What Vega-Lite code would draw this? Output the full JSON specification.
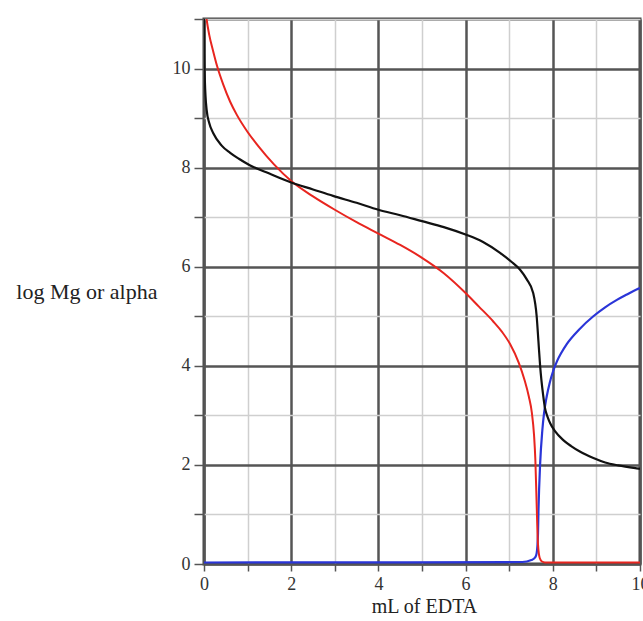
{
  "$schema": "https://vega.github.io/schema/vega-lite/v6.json",
  "autosize": "none",
  "width": 436,
  "height": 545,
  "padding": {"left": 204, "top": 19, "right": 3, "bottom": 57},
  "background": "white",
  "config": {
    "view": {"stroke": "#444444", "strokeWidth": 3},
    "font": "Liberation Serif"
  },
  "datasets": {
    "curves": [
      {"x": 0, "y": 11.2, "s": "black"},
      {"x": 0.005, "y": 10.3, "s": "black"},
      {"x": 0.02, "y": 9.75, "s": "black"},
      {"x": 0.06, "y": 9.17, "s": "black"},
      {"x": 0.12, "y": 8.9, "s": "black"},
      {"x": 0.21, "y": 8.7, "s": "black"},
      {"x": 0.4, "y": 8.45, "s": "black"},
      {"x": 0.6, "y": 8.3, "s": "black"},
      {"x": 0.8, "y": 8.18, "s": "black"},
      {"x": 1.05, "y": 8.05, "s": "black"},
      {"x": 1.5, "y": 7.88, "s": "black"},
      {"x": 2, "y": 7.7, "s": "black"},
      {"x": 2.5, "y": 7.56, "s": "black"},
      {"x": 2.96, "y": 7.43, "s": "black"},
      {"x": 3.5, "y": 7.29, "s": "black"},
      {"x": 4, "y": 7.15, "s": "black"},
      {"x": 4.5, "y": 7.04, "s": "black"},
      {"x": 5, "y": 6.92, "s": "black"},
      {"x": 5.5, "y": 6.8, "s": "black"},
      {"x": 6, "y": 6.65, "s": "black"},
      {"x": 6.4, "y": 6.5, "s": "black"},
      {"x": 6.79, "y": 6.28, "s": "black"},
      {"x": 7.05, "y": 6.1, "s": "black"},
      {"x": 7.25, "y": 5.94, "s": "black"},
      {"x": 7.4, "y": 5.75, "s": "black"},
      {"x": 7.55, "y": 5.47, "s": "black"},
      {"x": 7.63, "y": 5.0, "s": "black"},
      {"x": 7.67, "y": 4.5, "s": "black"},
      {"x": 7.71, "y": 3.99, "s": "black"},
      {"x": 7.74, "y": 3.7, "s": "black"},
      {"x": 7.78, "y": 3.4, "s": "black"},
      {"x": 7.82, "y": 3.15, "s": "black"},
      {"x": 7.88, "y": 2.97, "s": "black"},
      {"x": 7.94, "y": 2.84, "s": "black"},
      {"x": 8.05, "y": 2.68, "s": "black"},
      {"x": 8.24, "y": 2.5, "s": "black"},
      {"x": 8.42, "y": 2.38, "s": "black"},
      {"x": 8.62, "y": 2.27, "s": "black"},
      {"x": 8.93, "y": 2.14, "s": "black"},
      {"x": 9.2, "y": 2.05, "s": "black"},
      {"x": 9.5, "y": 1.99, "s": "black"},
      {"x": 9.92, "y": 1.93, "s": "black"},
      {"x": 10, "y": 1.92, "s": "black"},
      {"x": 0.03, "y": 11.2, "s": "red"},
      {"x": 0.06, "y": 10.99, "s": "red"},
      {"x": 0.12, "y": 10.68, "s": "red"},
      {"x": 0.21, "y": 10.35, "s": "red"},
      {"x": 0.3, "y": 10.05, "s": "red"},
      {"x": 0.44, "y": 9.68, "s": "red"},
      {"x": 0.6, "y": 9.33, "s": "red"},
      {"x": 0.75, "y": 9.07, "s": "red"},
      {"x": 1.0, "y": 8.72, "s": "red"},
      {"x": 1.25, "y": 8.43, "s": "red"},
      {"x": 1.6, "y": 8.07, "s": "red"},
      {"x": 2, "y": 7.73, "s": "red"},
      {"x": 2.5, "y": 7.42, "s": "red"},
      {"x": 3, "y": 7.15, "s": "red"},
      {"x": 3.5, "y": 6.9, "s": "red"},
      {"x": 4, "y": 6.67, "s": "red"},
      {"x": 4.5, "y": 6.44, "s": "red"},
      {"x": 5, "y": 6.18, "s": "red"},
      {"x": 5.5, "y": 5.87, "s": "red"},
      {"x": 6, "y": 5.47, "s": "red"},
      {"x": 6.3, "y": 5.2, "s": "red"},
      {"x": 6.63, "y": 4.9, "s": "red"},
      {"x": 6.84, "y": 4.68, "s": "red"},
      {"x": 7.02, "y": 4.44, "s": "red"},
      {"x": 7.22, "y": 4.06, "s": "red"},
      {"x": 7.35, "y": 3.72, "s": "red"},
      {"x": 7.45, "y": 3.38, "s": "red"},
      {"x": 7.52, "y": 3.05, "s": "red"},
      {"x": 7.57, "y": 2.6, "s": "red"},
      {"x": 7.6, "y": 2.1, "s": "red"},
      {"x": 7.63, "y": 1.2, "s": "red"},
      {"x": 7.66, "y": 0.4, "s": "red"},
      {"x": 7.7, "y": 0.12, "s": "red"},
      {"x": 7.75, "y": 0.05, "s": "red"},
      {"x": 7.82, "y": 0.03, "s": "red"},
      {"x": 10, "y": 0.03, "s": "red"},
      {"x": 0, "y": 0.03, "s": "blue"},
      {"x": 7.3, "y": 0.04, "s": "blue"},
      {"x": 7.51, "y": 0.08, "s": "blue"},
      {"x": 7.6, "y": 0.14, "s": "blue"},
      {"x": 7.63, "y": 0.22, "s": "blue"},
      {"x": 7.66, "y": 0.6, "s": "blue"},
      {"x": 7.67, "y": 1.02, "s": "blue"},
      {"x": 7.71, "y": 2.03, "s": "blue"},
      {"x": 7.76, "y": 2.7, "s": "blue"},
      {"x": 7.8, "y": 3.05, "s": "blue"},
      {"x": 7.86, "y": 3.38, "s": "blue"},
      {"x": 7.93, "y": 3.66, "s": "blue"},
      {"x": 8.01, "y": 3.9, "s": "blue"},
      {"x": 8.1, "y": 4.1, "s": "blue"},
      {"x": 8.2, "y": 4.27, "s": "blue"},
      {"x": 8.32, "y": 4.44, "s": "blue"},
      {"x": 8.6, "y": 4.73, "s": "blue"},
      {"x": 8.93, "y": 5.0, "s": "blue"},
      {"x": 9.2, "y": 5.18, "s": "blue"},
      {"x": 9.47, "y": 5.33, "s": "blue"},
      {"x": 9.7, "y": 5.44, "s": "blue"},
      {"x": 9.92, "y": 5.54, "s": "blue"},
      {"x": 10, "y": 5.57, "s": "blue"}
    ]
  },
  "data": {"name": "curves"},
  "encoding": {
    "x": {
      "field": "x", "type": "quantitative",
      "scale": {"domain": [0, 10], "nice": false, "zero": false},
      "axis": {
        "title": "mL of EDTA",
        "values": [0, 1, 2, 3, 4, 5, 6, 7, 8, 9, 10],
        "labelExpr": "datum.value % 2 === 0 ? datum.label : ''",
        "grid": true,
        "gridColor": {"condition": {"test": "datum.value % 2 === 0", "value": "#555555"}, "value": "#cfcfcf"},
        "gridWidth": {"condition": {"test": "datum.value % 2 === 0", "value": 2.5}, "value": 1.5},
        "domain": false,
        "tickColor": "#555555",
        "tickSize": 7,
        "tickWidth": 1.5,
        "labelPadding": 4,
        "labelFont": "Liberation Serif",
        "labelFontSize": 18,
        "labelColor": "#333333",
        "labelFlush": false,
        "titleFont": "Liberation Serif",
        "titleFontSize": 20,
        "titleFontWeight": "normal",
        "titleColor": "#222222",
        "titleBaseline": "alphabetic",
        "titleY": 48,
        "titleX": 220
      }
    },
    "y": {
      "field": "y", "type": "quantitative",
      "scale": {"domain": [0, 11], "nice": false, "zero": false},
      "axis": {
        "title": "log Mg or alpha",
        "values": [0, 1, 2, 3, 4, 5, 6, 7, 8, 9, 10, 11],
        "labelExpr": "datum.value % 2 === 0 ? datum.label : ''",
        "grid": true,
        "gridColor": {"condition": {"test": "datum.value % 2 === 0", "value": "#555555"}, "value": "#cfcfcf"},
        "gridWidth": {"condition": {"test": "datum.value % 2 === 0", "value": 2.5}, "value": 1.5},
        "domain": false,
        "tickColor": "#555555",
        "tickSize": 10,
        "tickWidth": 1.5,
        "labelPadding": 4,
        "labelFont": "Liberation Serif",
        "labelFontSize": 18,
        "labelColor": "#333333",
        "labelFlush": false,
        "titleFont": "Liberation Serif",
        "titleFontSize": 22,
        "titleFontWeight": "normal",
        "titleColor": "#222222",
        "titleAngle": 0,
        "titleAlign": "right",
        "titleBaseline": "middle",
        "titleX": -47,
        "titleY": 272
      }
    }
  },
  "layer": [
    {
      "transform": [{"filter": "datum.s === 'blue'"}],
      "mark": {"type": "line", "color": "#2a35d8", "strokeWidth": 2.2, "clip": true, "interpolate": "monotone"}
    },
    {
      "transform": [{"filter": "datum.s === 'red'"}],
      "mark": {"type": "line", "color": "#e8251f", "strokeWidth": 2, "clip": true, "interpolate": "monotone"}
    },
    {
      "transform": [{"filter": "datum.s === 'black'"}],
      "mark": {"type": "line", "color": "#111111", "strokeWidth": 2.2, "clip": true, "interpolate": "monotone"}
    }
  ]
}
